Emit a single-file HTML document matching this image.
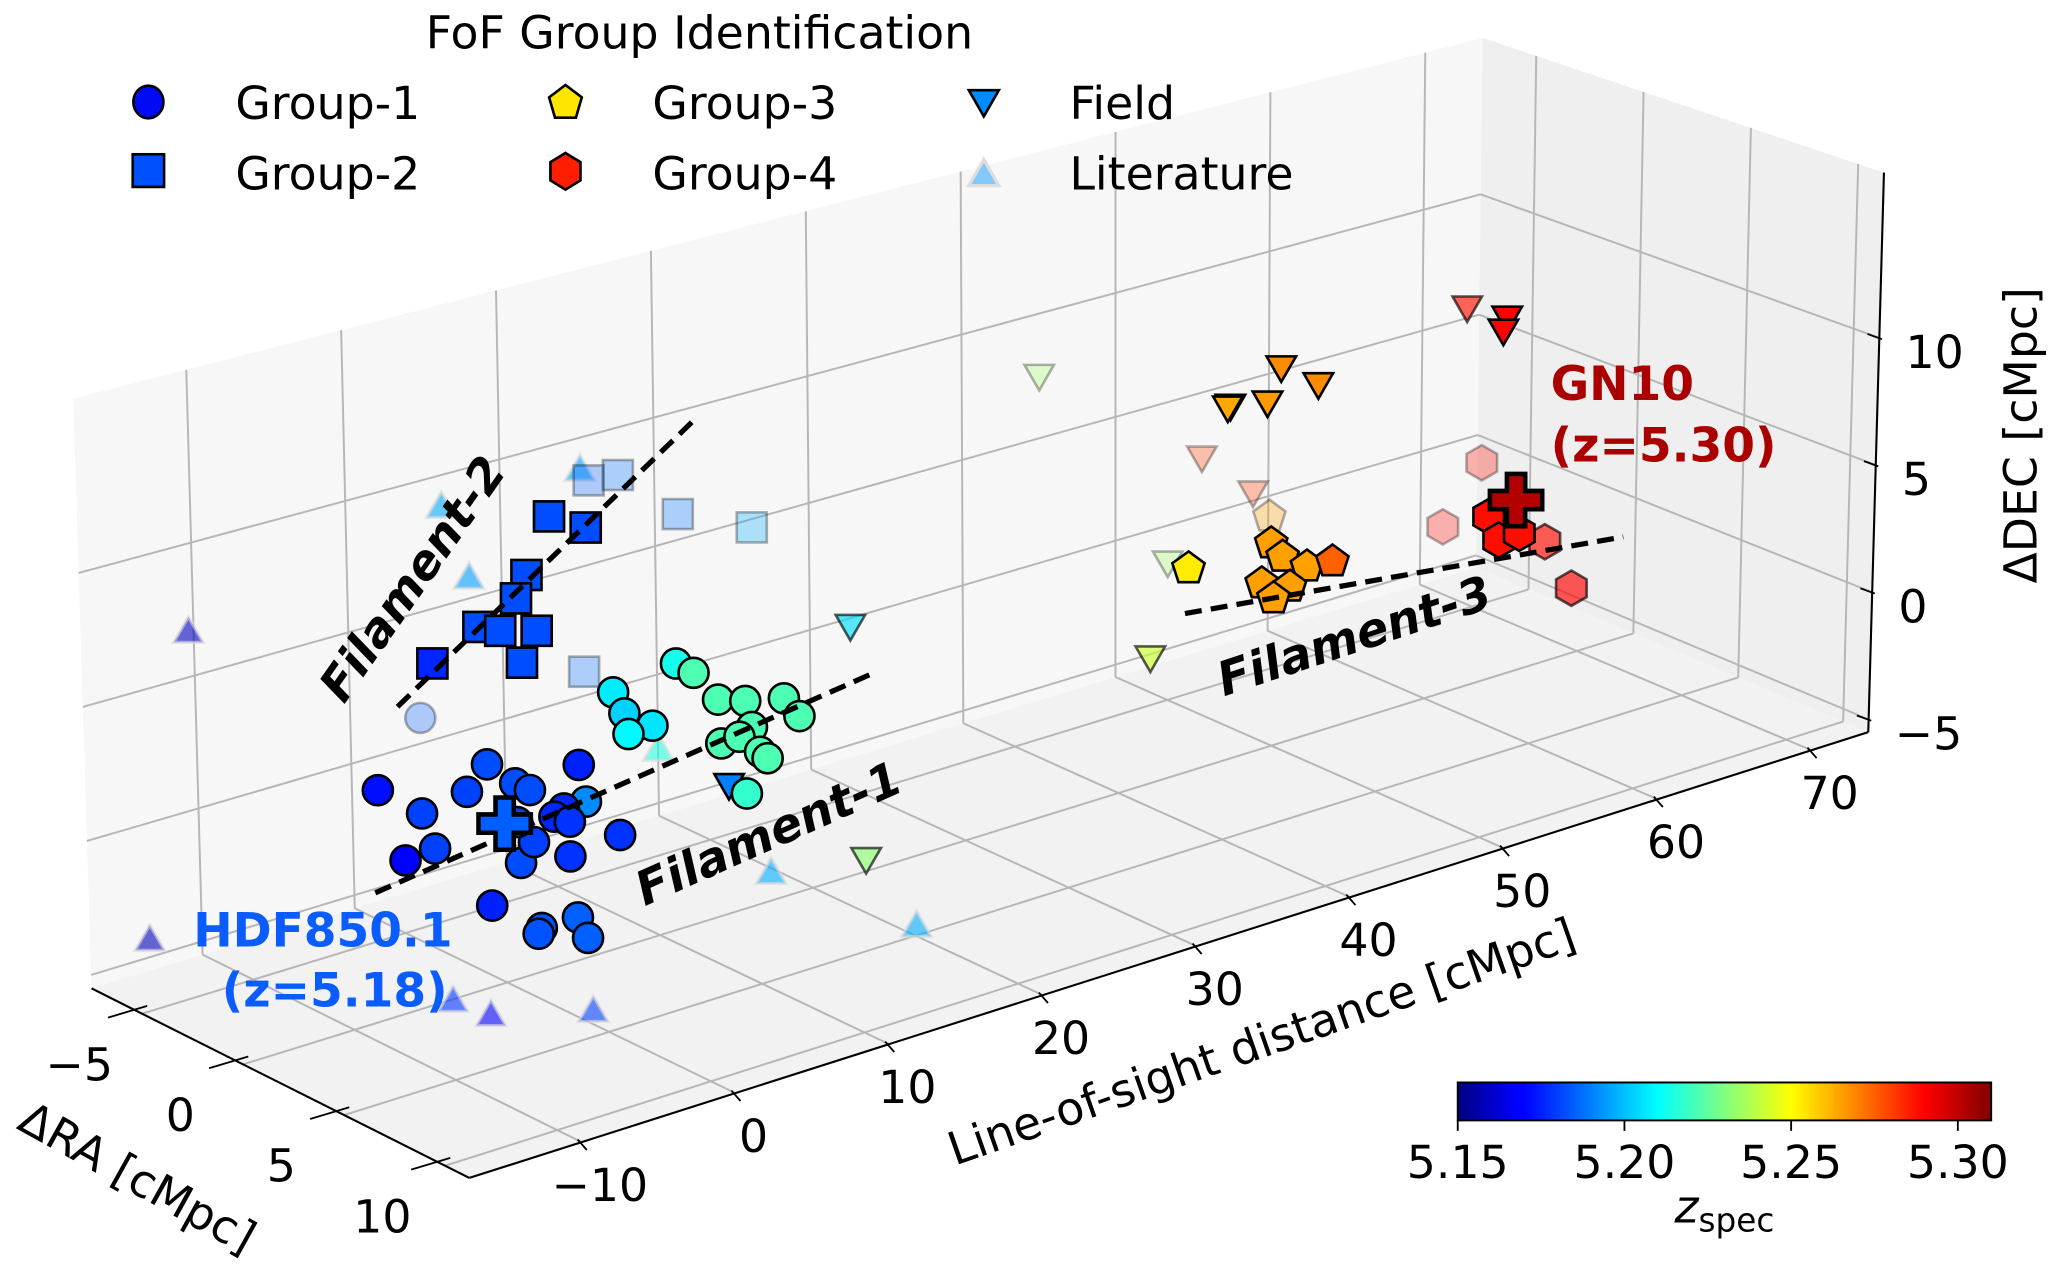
<!DOCTYPE html>
<html><head><meta charset="utf-8">
<style>
html,body{margin:0;padding:0;background:#fff;}
svg{display:block;font-family:"DejaVu Sans","Liberation Sans",sans-serif;}
</style></head>
<body>
<svg id="chart" width="2050" height="1274" viewBox="0 0 1568 974.5" preserveAspectRatio="none" xmlns="http://www.w3.org/2000/svg">
<defs>
<linearGradient id="jetgrad" x1="0" x2="1" y1="0" y2="0">
<stop offset="0" stop-color="rgb(0,0,128)"/><stop offset="0.11" stop-color="rgb(0,0,255)"/><stop offset="0.125" stop-color="rgb(0,0,255)"/><stop offset="0.375" stop-color="rgb(0,255,255)"/><stop offset="0.5" stop-color="rgb(128,255,128)"/><stop offset="0.625" stop-color="rgb(255,255,0)"/><stop offset="0.875" stop-color="rgb(255,0,0)"/><stop offset="1" stop-color="rgb(128,0,0)"/>
</linearGradient>
</defs>
<g id="panes"></g>
<g id="grid"></g>
<g id="axes"></g>
<g id="marks"></g>
<g id="fil"></g>
<g id="cross"></g>
<g id="ticks" font-size="35"></g>

<text x="316" y="443" font-size="36" font-weight="bold" font-style="italic" text-anchor="middle" dominant-baseline="central" transform="rotate(-55 316 443)">Filament-2</text>
<text x="588" y="638" font-size="36" font-weight="bold" font-style="italic" text-anchor="middle" dominant-baseline="central" transform="rotate(-24 588 638)">Filament-1</text>
<text x="1036" y="487" font-size="36" font-weight="bold" font-style="italic" text-anchor="middle" dominant-baseline="central" transform="rotate(-18.4 1036 487)">Filament-3</text>

<g fill="#0a5cff" font-weight="bold" font-size="36" text-anchor="middle">
<text x="247" y="724">HDF850.1</text>
<text x="256" y="770">(z=5.18)</text>
</g>
<g fill="#aa0000" font-weight="bold" font-size="36" text-anchor="start">
<text x="1186" y="306">GN10</text>
<text x="1186" y="353">(z=5.30)</text>
</g>

<text x="105" y="901" font-size="35" text-anchor="middle" dominant-baseline="central" transform="rotate(29 105 901)">ΔRA [cMpc]</text>
<text x="965" y="797" font-size="35" text-anchor="middle" dominant-baseline="central" transform="rotate(-19.3 965 797)">Line-of-sight distance [cMpc]</text>
<text x="1546" y="333" font-size="35" text-anchor="middle" dominant-baseline="central" transform="rotate(-90 1546 333)">ΔDEC [cMpc]</text>

<g id="legend" font-size="35">
<text x="535" y="37" text-anchor="middle">FoF Group Identification</text>
<g>
<ellipse cx="113.5" cy="78" rx="11.5" ry="12.5" fill="rgb(0,10,245)" stroke="#000" stroke-width="2"/>
<text x="180" y="91">Group-1</text></g>
<g>
<rect x="101.5" y="118" width="24" height="25" fill="rgb(0,80,255)" stroke="#000" stroke-width="2"/>
<text x="180" y="145">Group-2</text></g>
<g>
<polygon points="432.5,65 445,74.5 440.5,90 424.5,90 420,74.5" fill="rgb(255,230,0)" stroke="#000" stroke-width="2"/>
<text x="499" y="91">Group-3</text></g>
<g>
<polygon points="432.5,117 444,124 444,138 432.5,145 421,138 421,124" fill="rgb(255,30,0)" stroke="#000" stroke-width="2"/>
<text x="499" y="145">Group-4</text></g>
<g>
<polygon points="741,69 764,69 752.5,89" fill="rgb(0,140,255)" stroke="#000" stroke-width="2"/>
<text x="818" y="91">Field</text></g>
<g>
<polygon points="741,142 764,142 752.5,122" fill="rgb(130,200,250)" stroke="#ddd" stroke-width="2.5"/>
<text x="818" y="145">Literature</text></g>
</g>

<g id="cbar">
<rect x="1115" y="828" width="408" height="29" fill="url(#jetgrad)" stroke="#000" stroke-width="1.5"/>
<g id="cbticks" font-size="35"></g>
<text x="1319" y="935" font-size="35" text-anchor="middle"><tspan font-style="italic">z</tspan><tspan font-size="25" dy="7">spec</tspan></text>
</g>
</svg>
<script>
// ---- data ----
const g1_ra  = [0,0,0,0,0,0,0,0,0,0,0,0,0,0,0,0,0,0,0,-5,0,0,0,0,0,0,0,0,0,0,0,0,0,0,0,0,0,0,0,0];
const g1_los = [-8.17,-1.08,4.86,-5.34,-2.41,0.72,1.67,5.29,3.86,3.23,4.23,7.48,-4.54,-6.47,1.02,4.23,1.88,0.81,-0.90,1.25,2.30,4.66,5.30,2.09,7.15,7.86,9.67,8.11,11.24,12.37,13.94,15.70,18.21,19.21,16.12,14.12,15.30,16.63,17.12,15.75];
const g1_dec = [3.03,2.81,1.79,1.70,2.01,1.80,1.39,0.34,0.33,0.13,-0.23,-1.29,0.26,0.15,-1.22,-1.53,-0.59,0.34,-2.48,2.42,-3.87,-3.89,-4.77,-4.05,4.13,3.22,2.45,2.40,4.53,3.99,2.71,2.36,2.03,1.18,1.30,1.02,1.07,0.27,-0.06,-1.16];
const g1_z   = [5.172,5.182,5.175,5.180,5.180,5.182,5.182,5.192,5.176,5.176,5.178,5.178,5.180,5.170,5.182,5.178,5.180,5.180,5.175,5.185,5.183,5.185,5.185,5.183,5.207,5.203,5.206,5.209,5.213,5.222,5.222,5.222,5.222,5.222,5.222,5.222,5.222,5.222,5.222,5.218];

const g2_ra  = [0,0,0,0,0,0,0,0,0,-5,-5,-5,-5,-5];
const g2_los = [5.53,3.18,1.67,0.97,-1.48,-0.08,2.27,-4.49,1.29,12.42,14.31,18.15,22.93,11.93];
const g2_dec = [10.58,11.37,9.42,8.66,7.99,7.62,7.24,7.12,6.21,9.63,9.53,7.40,6.09,2.38];
const g2_z   = [5.182,5.182,5.182,5.182,5.182,5.182,5.182,5.176,5.182,5.185,5.188,5.188,5.197,5.187];

const g3_ra  = [-5,0,0,0,0,0,0,0,0];
const g3_los = [56.64,49.91,50.66,52.25,53.91,49.31,51.15,50.08,44.53];
const g3_dec = [0.65,2.50,1.84,1.17,1.07,1.03,0.57,0.30,2.47];
const g3_z   = [5.265,5.265,5.265,5.265,5.275,5.265,5.265,5.265,5.253];

const g4_ra  = [5,5,5,-5,-5,0,0];
const g4_los = [57.19,57.86,59.19,70.52,68.01,67.78,69.57];
const g4_dec = [3.93,2.89,2.92,0.31,-1.85,-0.67,-2.88];
const g4_z   = [5.288,5.288,5.288,5.288,5.288,5.288,5.290];

const fd_ra  = [0,5,0,-5,5,5,5,5,5,-5,-5,-5,0,0,5,5];
const fd_los = [22.56,7.95,23.49,41.63,43.64,46.04,40.38,40.21,42.77,52.21,55.56,50.0,42.06,62.5,58.19,57.96];
const fd_dec = [4.14,2.33,-4.94,9.0,12.16,11.11,11.22,11.18,10.95,3.92,1.92,0.10,-0.48,9.79,11.67,11.20];
const fd_z   = [5.205,5.190,5.232,5.235,5.268,5.268,5.268,5.264,5.266,5.280,5.280,5.235,5.242,5.287,5.290,5.290];

const lit_ra  = [0,0,0,0,-5,-5,5,5,5,0,5];
const lit_los = [-3.73,-2.03,5.21,10.04,-13.61,-16.66,-10.10,-7.66,-1.01,17.28,20.07];
const lit_dec = [12.73,9.83,12.72,1.40,7.99,-2.95,-2.68,-3.62,-4.63,-4.52,-5.22];
const lit_z   = [5.197,5.195,5.195,5.215,5.160,5.160,5.178,5.170,5.180,5.197,5.197];

const cross_names = ["hdf850-1-marker","gn10-marker"];
const cross_ra  = [0,5];
const cross_los = [0.0,58.95];
const cross_dec = [0.42,4.27];
const cross_z   = [5.185,5.302];

const fil_names = ["filament-2-line","filament-1-line","filament-3-line"];
const fil_ra0 = [0,0,0], fil_los0 = [-6.79,-8.47,44.31], fil_dec0 = [5.89,-0.71,0.74];
const fil_ra1 = [0,0,0], fil_los1 = [12.49,23.92,72.92], fil_dec1 = [13.47,1.98,-1.43];

const ra_ticks = [-5,0,5,10];
const los_ticks = [-10,0,10,20,30,40,50,60,70];
const dec_ticks = [-5,0,5,10];
const cb_ticks = [5.15,5.20,5.25,5.30];

// ---- axes / projection ----
const R0=-7.5,R1=11.2,L0=-17.3,L1=73.7,D0=-5.5,D1=16.5;
const ZMIN=5.15,ZMAX=5.31;
const CL=[70,756],CF=[359,901],CK=[1129,434],CR=[1429,560],CLT=[56,305],CFT=[352,427],CKT=[1134,29],CRT=[1441,132];
function lp(a,b,t){return [a[0]+(b[0]-a[0])*t,a[1]+(b[1]-a[1])*t];}
function P(ra,los,dec){
  const u=(ra-R0)/(R1-R0), v=(los-L0)/(L1-L0), w=(dec-D0)/(D1-D0);
  const bot=lp(lp(CL,CF,u),lp(CK,CR,u),v);
  const top=lp(lp(CLT,CFT,u),lp(CKT,CRT,u),v);
  return lp(bot,top,w);
}
function jet(z){
  const t=Math.max(0,Math.min(1,(z-ZMIN)/(ZMAX-ZMIN)));
  const c=x=>Math.round(255*Math.max(0,Math.min(1,x)));
  return `rgb(${c(1.5-Math.abs(4*t-3))},${c(1.5-Math.abs(4*t-2))},${c(1.5-Math.abs(4*t-1))})`;
}
const NS="http://www.w3.org/2000/svg";
function mk(tag,attrs,parent){const e=document.createElementNS(NS,tag);for(const k in attrs)e.setAttribute(k,attrs[k]);parent.appendChild(e);return e;}
const pts=a=>a.map(p=>p[0].toFixed(1)+","+p[1].toFixed(1)).join(" ");

// panes
const panes=document.getElementById('panes');
let e;
e=mk('polygon',{points:pts([P(R0,L0,D0),P(R0,L1,D0),P(R0,L1,D1),P(R0,L0,D1)]),fill:'#f7f7f7'},panes);


e=mk('polygon',{points:pts([P(R0,L1,D0),P(R1,L1,D0),P(R1,L1,D1),P(R0,L1,D1)]),fill:'#efefef'},panes);


e=mk('polygon',{points:pts([P(R0,L0,D0),P(R1,L0,D0),P(R1,L1,D0),P(R0,L1,D0)]),fill:'#f2f2f2'},panes);



// grid
const grid=document.getElementById('grid');
function gl(a,b,name){const l=mk('line',{x1:a[0],y1:a[1],x2:b[0],y2:b[1],stroke:'#b6b6b6','stroke-width':1.5},grid);

}
los_ticks.forEach(l=>{gl(P(R0,l,D0),P(R1,l,D0),'floor-grid-los');gl(P(R0,l,D0),P(R0,l,D1),'left-grid-los');});
ra_ticks.forEach(r=>{gl(P(r,L0,D0),P(r,L1,D0),'floor-grid-ra');gl(P(r,L1,D0),P(r,L1,D1),'right-grid-ra');});
dec_ticks.forEach(d=>{gl(P(R0,L0,d),P(R0,L1,d),'left-grid-dec');gl(P(R0,L1,d),P(R1,L1,d),'right-grid-dec');});

// axis lines + ticks + labels
const axes=document.getElementById('axes'), tk=document.getElementById('ticks');
function al(a,b,name){const l=mk('line',{x1:a[0],y1:a[1],x2:b[0],y2:b[1],stroke:'#000','stroke-width':1.6},axes);

}
al(P(R0,L0,D0),P(R1,L0,D0),'ra-axis-line');
al(P(R1,L0,D0),P(R1,L1,D0),'los-axis-line');
al(P(R1,L1,D0),P(R1,L1,D1),'dec-axis-line');
function tl(x,y,txt,anchor,name){const t=mk('text',{x:x,y:y,'text-anchor':anchor},tk);t.textContent=txt;

}
const fmt=v=>v<0?'\u2212'+Math.abs(v):String(v);
ra_ticks.forEach(r=>{const p=P(r,L0,D0);
  mk('line',{x1:p[0]-26,y1:p[1]+3,x2:p[0]+4,y2:p[1]-6,stroke:'#000','stroke-width':1.4},axes);
  tl(p[0]-48,p[1]+51,fmt(r),'middle','ra-tick-label');});
los_ticks.forEach(l=>{const p=P(R1,l,D0);
  mk('line',{x1:p[0]-3,y1:p[1]-2,x2:p[0]+4,y2:p[1]+6,stroke:'#000','stroke-width':1.4},axes);
  tl(p[0]+14,p[1]+45,fmt(l),'middle','los-tick-label');});
dec_ticks.forEach(d=>{const p=P(R1,L1,d);
  mk('line',{x1:p[0]-9,y1:p[1]-3,x2:p[0]+2,y2:p[1]+1,stroke:'#000','stroke-width':1.4},axes);
  tl(p[0]+20,p[1]+23,fmt(d),'start','dec-tick-label');});

// markers
function shape(kind,x,y,parent,fill,stroke,sw,op,name){
  let el;
  if(kind==='o'){el=mk('circle',{cx:x,cy:y,r:11.5},parent);}
  else if(kind==='s'){el=mk('rect',{x:x-11.5,y:y-11.5,width:23,height:23},parent);}
  else{
    let n,r,rot;
    if(kind==='p'){n=5;r=13;rot=-90;}
    else if(kind==='h'){n=6;r=13.5;rot=-90;}
    else if(kind==='v'){n=3;r=13;rot=90;}
    else {n=3;r=13;rot=-90;}
    const a=[];for(let i=0;i<n;i++){const t=(rot+360*i/n)*Math.PI/180;a.push([x+r*Math.cos(t),y+r*Math.sin(t)]);}
    el=mk('polygon',{points:pts(a)},parent);
  }
  el.setAttribute('fill',fill);el.setAttribute('stroke',stroke);el.setAttribute('stroke-width',sw);
  el.setAttribute('fill-opacity',op);el.setAttribute('stroke-opacity',op);
  
  
  return el;
}
const marks=document.getElementById('marks');
function collection(kind,ra,los,dec,z,name,lit){
  const g=mk('g',{},marks);
  
  
  const mn=Math.min(...ra),mx=Math.max(...ra);
  const idx=ra.map((_,i)=>i).sort((a,b)=>ra[a]-ra[b]);
  idx.forEach(i=>{
    const p=P(ra[i],los[i],dec[i]);
    let op=mx>mn?0.3+0.7*(ra[i]-mn)/(mx-mn):1;
    if(lit){shape(kind,p[0],p[1],g,jet(z[i]),'#d8d8d8',2.5,0.6,name+'-point');}
    else shape(kind,p[0],p[1],g,jet(z[i]),'#000',2,op,name+'-point');
  });
}
collection('^',lit_ra,lit_los,lit_dec,lit_z,'literature',true);
collection('v',fd_ra,fd_los,fd_dec,fd_z,'field',false);
collection('o',g1_ra,g1_los,g1_dec,g1_z,'group-1',false);
collection('s',g2_ra,g2_los,g2_dec,g2_z,'group-2',false);
collection('p',g3_ra,g3_los,g3_dec,g3_z,'group-3',false);
collection('h',g4_ra,g4_los,g4_dec,g4_z,'group-4',false);

// filaments
const fil=document.getElementById('fil');
fil_names.forEach((n,i)=>{const a=P(fil_ra0[i],fil_los0[i],fil_dec0[i]),b=P(fil_ra1[i],fil_los1[i],fil_dec1[i]);
  const l=mk('line',{x1:a[0],y1:a[1],x2:b[0],y2:b[1],stroke:'#000','stroke-width':4,'stroke-dasharray':'13,7'},fil);
  
  });

// crosses
const cr=document.getElementById('cross');
cross_names.forEach((n,i)=>{const p=P(cross_ra[i],cross_los[i],cross_dec[i]);const s=20,t=7;
  const a=[[-t,-s],[t,-s],[t,-t],[s,-t],[s,t],[t,t],[t,s],[-t,s],[-t,t],[-s,t],[-s,-t],[-t,-t]].map(q=>[p[0]+q[0],p[1]+q[1]]);
  const el=mk('polygon',{points:pts(a),fill:jet(cross_z[i]),stroke:'#000','stroke-width':3.5,'stroke-linejoin':'miter'},cr);
  
  });

// colorbar ticks
const cbt=document.getElementById('cbticks');
cb_ticks.forEach(v=>{const x=1115+408*(v-ZMIN)/(ZMAX-ZMIN);
  mk('line',{x1:x,y1:857,x2:x,y2:865,stroke:'#000','stroke-width':1.4},cbt);
  const t=mk('text',{x:x,y:901,'text-anchor':'middle'},cbt);t.textContent=v.toFixed(2);
  
  });
</script>
</body></html>
